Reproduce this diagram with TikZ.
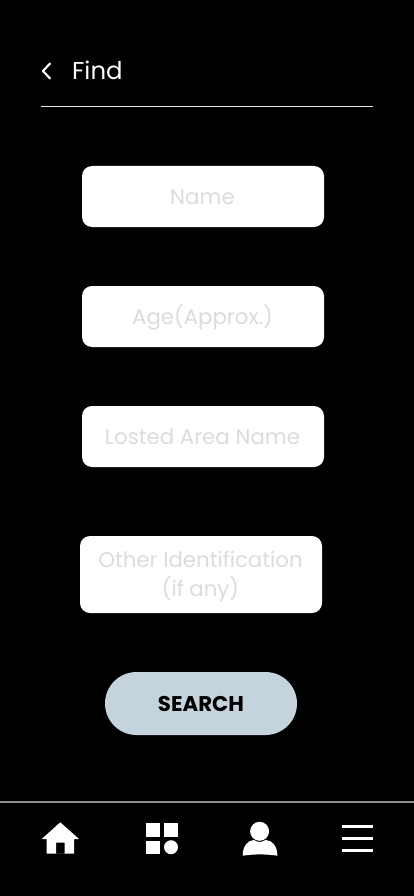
\documentclass[tikz,border=0pt]{standalone}
\usepackage{fontspec}
\setmainfont{Poppins}
\definecolor{hint}{HTML}{DCDCDC}
\definecolor{btn}{HTML}{C5D3DC}
\tikzset{
  field/.style={fill=white,rounded corners=10pt},
  hinttext/.style={text=hint,font=\fontsize{21.3}{29}\selectfont,align=center,inner sep=0pt},
  icon/.style={fill=white,draw=none},
  barline/.style={draw=white,line width=2.8pt}
}
\begin{document}
\begin{tikzpicture}[x=1pt,y=-1pt]
\useasboundingbox (0,0) rectangle (414,896);
\fill[black] (0,0) rectangle (414,896);
% header
\draw[white,line width=2.1pt,line cap=round,line join=round] (50,63.5) -- (43,71) -- (50,78.5);
\node[anchor=west,text=white,inner sep=0pt,font=\fontsize{24.4}{29}\selectfont] (find) at (72,70.5) {Find};
\coordinate (ruleL) at (41.2,106.5);
\coordinate (ruleR) at (372.5,106.5);
\draw[white!90!black,line width=1.1pt] (ruleL) -- (ruleR);
% fields
\fill[field] (82,166) rectangle (324,227);
\node[hinttext] (name) at (202.5,197.2) {Name};
\fill[field] (82,286) rectangle (324,347);
\node[hinttext] (age) at (202.5,317) {Age(Approx.)};
\fill[field] (82,406) rectangle (324,467);
\node[hinttext] (area) at (202.5,436.7) {Losted Area Name};
\fill[field] (80,536) rectangle (322,613);
\node[hinttext] (other) at (200.5,576.5) {Other Identification\\(if any)};
% button
\fill[btn,rounded corners=31.5pt] (105,672) rectangle (297,735);
\node[inner sep=0pt,text=black,font=\fontsize{21.3}{26}\selectfont\bfseries] (search) at (201,703.5) {SEARCH};
% bottom bar
\draw[white!55!black,line width=1.6pt] (0,802) -- (414,802);
% home
\fill[icon,even odd rule] (60.3,822.3) -- (79,839) -- (74,839) -- (74,853.5) -- (46.7,853.5) -- (46.7,839) -- (41.7,839) -- cycle
  (56,842.7) rectangle (64.7,853.5);
% grid
\fill[icon] (146,822.5) rectangle (160.3,836.5);
\fill[icon] (164,822.5) rectangle (178,836.5);
\fill[icon] (146,840.5) rectangle (160.3,854);
\fill[icon] (171,847.2) circle[radius=7];
% person
\fill[icon] (259.6,831.3) circle[radius=9.5];
\fill[icon] (242.7,855.7) .. controls (242.7,846) and (248,840) .. (254,840)
  .. controls (257,842.5) and (262,842.5) .. (265.5,840)
  .. controls (272,840) and (277.4,846) .. (277.4,855.7)
  .. controls (266,854) and (254,854) .. (242.7,855.7) -- cycle;
% menu
\draw[barline] (342,826.3) -- (372.7,826.3);
\draw[barline] (342,838.7) -- (372.7,838.7);
\draw[barline] (342,850.3) -- (372.7,850.3);
\end{tikzpicture}
\end{document}
